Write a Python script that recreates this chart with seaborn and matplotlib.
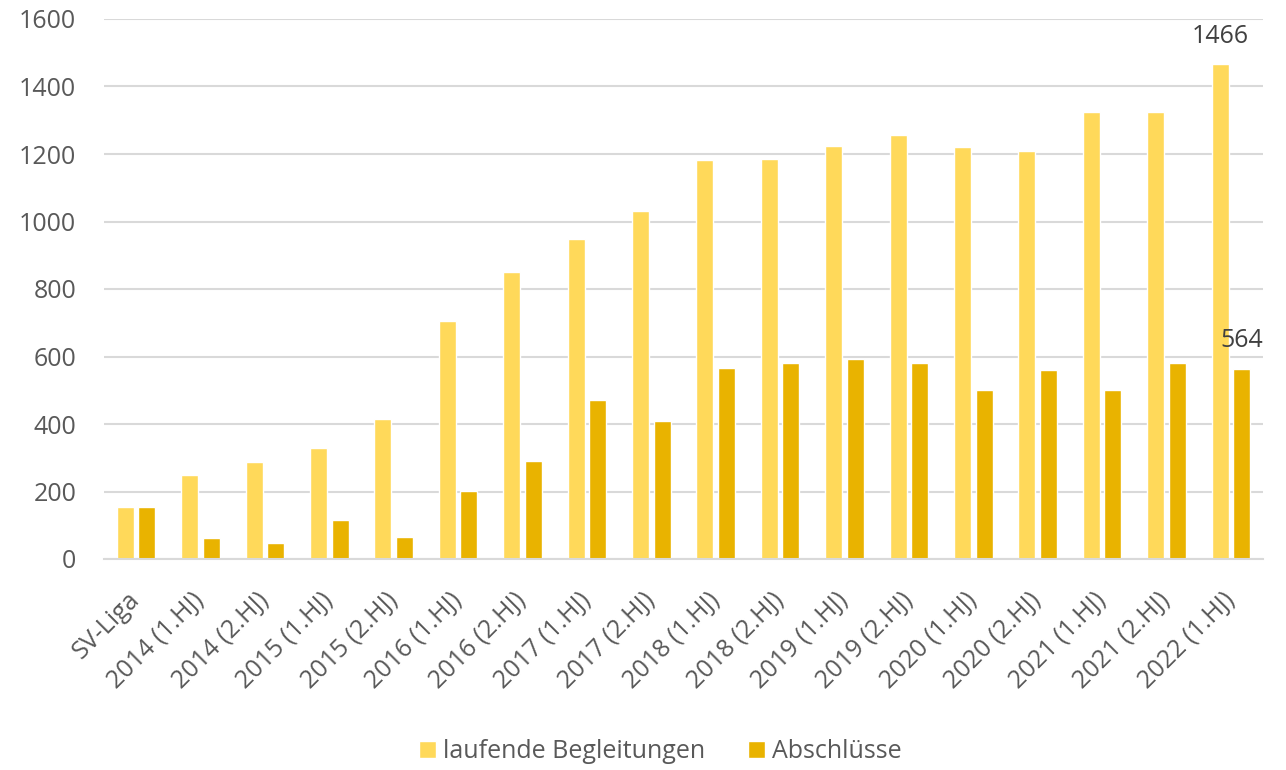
import matplotlib
matplotlib.use("Agg")
import matplotlib.pyplot as plt
import seaborn as sns
import pandas as pd

categories = ["SV-Liga", "2014 (1.HJ)", "2014 (2.HJ)", "2015 (1.HJ)", "2015 (2.HJ)",
              "2016 (1.HJ)", "2016 (2.HJ)", "2017 (1.HJ)", "2017 (2.HJ)",
              "2018 (1.HJ)", "2018 (2.HJ)", "2019 (1.HJ)", "2019 (2.HJ)",
              "2020 (1.HJ)", "2020 (2.HJ)", "2021 (1.HJ)", "2021 (2.HJ)", "2022 (1.HJ)"]
laufende = [155, 250, 288, 329, 416, 705, 851, 948, 1031, 1182, 1185, 1224, 1256,
            1221, 1209, 1324, 1324, 1466]
abschluesse = [155, 61, 47, 116, 65, 201, 290, 471, 409, 566, 581, 593, 581,
               501, 560, 501, 581, 564]
series_names = ["laufende Begleitungen", "Abschlüsse"]
colors = ["#FFD95A", "#E9B300"]
yticks = [0, 200, 400, 600, 800, 1000, 1200, 1400, 1600]

df = pd.DataFrame({
    "Kategorie": categories * 2,
    "Wert": laufende + abschluesse,
    "Serie": [series_names[0]] * len(categories) + [series_names[1]] * len(categories),
})

sns.set_theme(style="white")
plt.rcParams["font.family"] = ["Open Sans", "DejaVu Sans"]
FS = 18

fig = plt.figure(figsize=(12.86, 7.7), dpi=100)
ax = fig.add_axes([104 / 1286, 1 - 559 / 770, (1263 - 104) / 1286, (559 - 19) / 770])

sns.barplot(data=df, x="Kategorie", y="Wert", hue="Serie", order=categories,
            hue_order=series_names, palette=colors, width=0.67, gap=0.21,
            saturation=1, ax=ax, legend=True)

ax.set_ylim(0, 1600)
ax.set_yticks(yticks)
ax.set_xlim(-0.5, len(categories) - 0.5)
ax.yaxis.grid(True, color="#D9D9D9", linewidth=1.5)
ax.set_axisbelow(True)
for s in ["left", "right", "top"]:
    ax.spines[s].set_visible(False)
ax.spines["bottom"].set_color("#D9D9D9")
ax.spines["bottom"].set_linewidth(1.5)
ax.set_xlabel("")
ax.set_ylabel("")
ax.tick_params(axis="both", length=0, labelsize=FS, colors="#595959")
ax.tick_params(axis="y", pad=20)
ax.tick_params(axis="x", pad=27)
for lab in ax.get_xticklabels():
    lab.set_rotation(45)
    lab.set_ha("right")
    lab.set_va("center")
    lab.set_rotation_mode("anchor")

# data labels on last group
last = len(categories) - 1
for cont, vals in [(ax.containers[0], laufende), (ax.containers[1], abschluesse)]:
    bar = cont.patches[last]
    ax.annotate(f"{vals[last]}", (bar.get_x() + bar.get_width() / 2, vals[last]),
                xytext=(0, 20), textcoords="offset points", ha="center", va="center",
                fontsize=FS, color="#404040")

ax.legend(loc="center", bbox_to_anchor=(0.48, -0.357), ncol=2, frameon=False,
          fontsize=FS, labelcolor="#595959", handlelength=0.68, handleheight=0.68,
          handletextpad=0.3, columnspacing=1.7)

fig.savefig("out.png", dpi=100)
